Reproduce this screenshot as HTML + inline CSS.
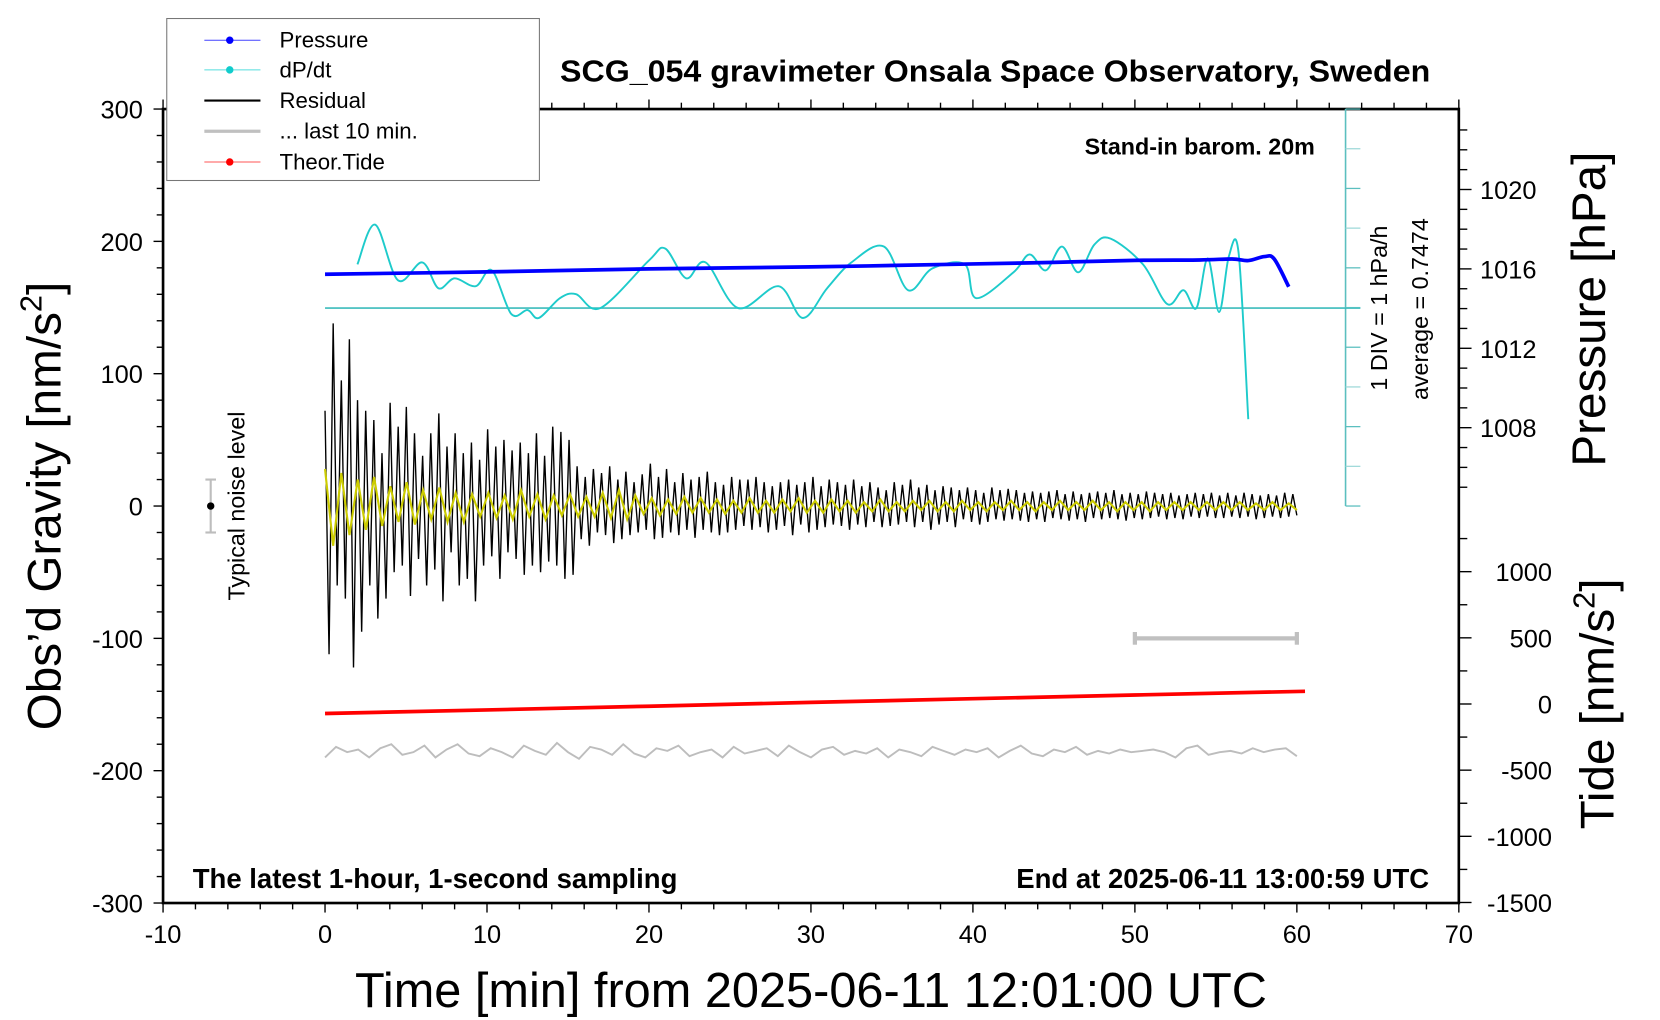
<!DOCTYPE html>
<html><head><meta charset="utf-8">
<style>
html,body{margin:0;padding:0;background:#fff;}
svg{display:block;font-family:"Liberation Sans",Arial,sans-serif;}
</style></head>
<body>
<svg id="chart" width="1660" height="1020" viewBox="0 0 1568 963.5">
<g id="axes"></g>
<g id="series"></g>
<g id="labels"></g>
</svg>
<script>
// ---- data ----
const residual = [72,-112,138,-60,95,-70,126,-122,
80,-95,72,-60,65,-85,40,-70, 78,-50,60,-45,75,-68,55,-40,
38,-60,55,-48,70,-72,45,-35, 55,-60,40,-55,48,-72,35,-45,
58,-38,45,-55,50,-35,42,-40, 48,-52,40,-45,55,-50,38,-42,
60,-45,56,-55,50,-52,30,-25, 22,-30,28,-20,25,-22,30,-28,
20,-25,26,-22,18,-20,24,-18, 32,-25,22,-24,28,-20,18,-22,
25,-18,20,-24,22,-18,26,-20, 18,-22,16,-20,22,-18,20,-15,
20,-18,22,-16,18,-20,15,-18, 18,-15,20,-22,16,-14,18,-20,
22,-18,15,-16,20,-14,18,-15, 16,-18,20,-14,15,-16,18,-12,
14,-16,12,-15,18,-14,16,-12, 20,-16,14,-12,16,-18,12,-14,
15,-12,14,-16,12,-10,14,-12, 12,-14,10,-12,14,-10,12,-11,
13,-10,12,-11,10,-12,11,-10, 10,-12,11,-9,12,-10,9,-11,
11,-10,9,-12,10,-9,11,-10, 10,-9,12,-10,9,-11,10,-9,
9,-10,11,-9,10,-8,9,-10, 10,-9,8,-10,9,-8,10,-9,
9,-8,10,-9,8,-9,10,-8, 8,-9,10,-8,9,-10,8,-9, 9,-8,8,-9,10,-8,9,-7];
const filtered = [28,-30,25,-22,20,-18,22,-15, 15,-12,18,-14,12,-10,14,-12, 10,-12,9,-8,10,-9,8,-10,
12,-8,9,-10,8,-7,9,-8, 7,-8,10,-9,12,-10,8,-6, 6,-7,5,-6,7,-5,6,-5, 5,-6,4,-5,6,-5,4,-5,
5,-4,6,-5,4,-5,5,-4, 4,-5,3,-4,5,-4,3,-4, 4,-3,4,-4,3,-4,4,-3, 3,-4,3,-3,4,-3,3,-4,
3,-3,4,-3,3,-3,4,-3, 3,-4,3,-3,3,-4,3,-3, 3,-3,3,-3,3,-3,3,-3, 3,-3,2,-3,3,-3,2,-3];
const last10 = [-190,-182,-186,-184,-190,-183,-180,-188,-186,-181,-190,-184,-180,-187,-189,-183,-186,-190,-181,-185,
-188,-179,-186,-191,-182,-184,-188,-180,-187,-190,-183,-185,-181,-189,-186,-184,-190,-182,-187,-185,
-183,-189,-181,-186,-190,-184,-182,-188,-185,-187,-183,-190,-184,-186,-189,-182,-185,-188,-184,-186,
-183,-190,-185,-181,-187,-189,-184,-186,-182,-188,-185,-187,-184,-186,-185,-184,-186,-190,-183,-181,
-188,-186,-185,-187,-183,-186,-184,-183,-189];
const tideT = [0,10,20,30,40,50,60.5];
const tideV = [-72,-45,-17,12,40,68,96];
const presT = [0,10,20,30,40,45,50,54,56,57,58,58.6,59.5];
const presV = [1015.73,1015.85,1016.0,1016.1,1016.25,1016.33,1016.43,1016.45,1016.5,1016.42,1016.62,1016.5,1015.1];
const dpT = [2,3.1,4.5,6,7,8,9.3,10.3,11.5,12.5,13.2,14.5,15.5,17,20,21,22.3,23.5,25.5,28,29.5,31,32.5,34.5,36,37.5,39.5,40.2,42.5,43.5,44.5,45.5,46.5,47.5,48.5,50.5,52,53,53.8,54.5,55.2,55.8,56.4,57];
const dpV = [1.1,2.1,0.7,1.15,0.5,0.75,0.55,0.95,-0.15,-0.05,-0.25,0.25,0.35,0,1.2,1.5,0.75,1.15,0,0.55,-0.25,0.5,1.15,1.55,0.45,1.0,1.1,0.25,0.9,1.35,0.95,1.55,0.9,1.6,1.75,1.1,0.1,0.45,0,1.25,-0.1,1.3,1.4,-2.8];
const xTicks = [-10,0,10,20,30,40,50,60,70];
const yTicks = [-300,-200,-100,0,100,200,300];
const pTicks = [1008,1012,1016,1020];
const tTicks = [-1500,-1000,-500,0,500,1000];

// ---- scales ----
const L=154,R=1378,T=103,B=853;
const X=t=>L+(t+10)*(R-L)/80;
const Y=v=>478-v*1.25;
const PY=p=>254-(p-1016)*18.75;
const TY=v=>665-v*0.125;
const DY=v=>291-v*37.5;
const NS='http://www.w3.org/2000/svg';
function mk(tag,attrs,parent,text){const e=document.createElementNS(NS,tag);for(const k in attrs)e.setAttribute(k,attrs[k]);if(text!==undefined)e.textContent=text;parent.appendChild(e);return e;}
const axes=document.getElementById('axes'),ser=document.getElementById('series'),lab=document.getElementById('labels');

let e=mk('rect',{x:L,y:T,width:R-L,height:B-T,fill:'none',stroke:'#000','stroke-width':2.5},axes);


for(let t=-10;t<=70;t+=2){const maj=t%10===0;
 mk('line',{x1:X(t),x2:X(t),y1:B,y2:B+(maj?9:6),stroke:'#000','stroke-width':1.3},axes);
 mk('line',{x1:X(t),x2:X(t),y1:T,y2:T-(maj?9:6),stroke:'#000','stroke-width':1.3},axes);}
xTicks.forEach(t=>{const el=mk('text',{x:X(t),y:891,'font-size':24,'text-anchor':'middle'},lab,String(t));
 
 });
for(let v=-300;v<=300;v+=20){const maj=v%100===0;
 mk('line',{x1:L,x2:L-(maj?9:6),y1:Y(v),y2:Y(v),stroke:'#000','stroke-width':1.3},axes);}
yTicks.forEach(v=>{const el=mk('text',{x:135,y:Y(v)+9,'font-size':24,'text-anchor':'end'},lab,String(v));
 
 });
for(let p=1005;p<=1023;p++){const y=PY(p);if(y<T||y>478)continue;
 mk('line',{x1:R,x2:R+(p%4===0?12:8),y1:y,y2:y,stroke:'#000','stroke-width':1.3},axes);}
pTicks.forEach(p=>{const el=mk('text',{x:1398,y:PY(p)+9,'font-size':24},lab,String(p));
 
 });
for(let v=-1500;v<=1250;v+=250){const y=TY(v);if(y<500)continue;
 mk('line',{x1:R,x2:R+(v%500===0?12:8),y1:y,y2:y,stroke:'#000','stroke-width':1.3},axes);}
tTicks.forEach(v=>{const el=mk('text',{x:1466,y:TY(v)+9,'font-size':24,'text-anchor':'end'},lab,String(v));
 
 });
mk('line',{x1:1271,x2:1271,y1:T,y2:478,stroke:'#5bbfbf','stroke-width':1.5},axes);
for(let k=0;k<=10;k++){mk('line',{x1:1271,x2:1285,y1:T+k*37.5,y2:T+k*37.5,stroke:k%2?'#9fd9d9':'#5bbfbf','stroke-width':1.2},axes);}
e=mk('line',{x1:X(0),x2:1285,y1:DY(0),y2:DY(0),stroke:'#3cbcbc','stroke-width':1.5},axes);



function poly(ts,vs,f){return ts.map((t,i)=>X(t).toFixed(1)+','+f(vs[i]).toFixed(1)).join(' ');}
function smooth(ts,vs,f){const p=ts.map((t,i)=>[X(t),f(vs[i])]);let d='M'+p[0][0]+','+p[0][1];
 for(let i=0;i<p.length-1;i++){const p0=p[i-1]||p[i],p1=p[i],p2=p[i+1],p3=p[i+2]||p2;
 d+=' C'+(p1[0]+(p2[0]-p0[0])/6)+','+(p1[1]+(p2[1]-p0[1])/6)+' '+(p2[0]-(p3[0]-p1[0])/6)+','+(p2[1]-(p3[1]-p1[1])/6)+' '+p2[0]+','+p2[1];}return d;}
const rT=residual.map((v,i)=>i*60/(residual.length-1));
e=mk('polyline',{points:poly(rT,residual,Y),fill:'none',stroke:'#000','stroke-width':1.3},ser);


const fT=filtered.map((v,i)=>i*60/(filtered.length-1));
e=mk('polyline',{points:poly(fT,filtered,Y),fill:'none',stroke:'#cccc00','stroke-width':2},ser);


const gT=last10.map((v,i)=>i*60/(last10.length-1));
e=mk('polyline',{points:poly(gT,last10,Y),fill:'none',stroke:'#bdbdbd','stroke-width':1.8},ser);


e=mk('polyline',{points:poly(tideT,tideV,TY),fill:'none',stroke:'#ff0000','stroke-width':3.5},ser);


e=mk('path',{d:smooth(dpT,dpV,DY),fill:'none',stroke:'#1ecbcb','stroke-width':1.8},ser);


e=mk('path',{d:smooth(presT,presV,PY),fill:'none',stroke:'#0000ff','stroke-width':3.5},ser);


const sb=mk('g',{stroke:'#c0c0c0','stroke-width':4},ser);


mk('line',{x1:X(50),x2:X(60),y1:Y(-100),y2:Y(-100)},sb);
mk('line',{x1:X(50),x2:X(50),y1:Y(-100)-6,y2:Y(-100)+6},sb);
mk('line',{x1:X(60),x2:X(60),y1:Y(-100)-6,y2:Y(-100)+6},sb);
mk('line',{x1:199,x2:199,y1:Y(20),y2:Y(-20),stroke:'#bdbdbd','stroke-width':2},ser);
mk('line',{x1:194,x2:204,y1:Y(20),y2:Y(20),stroke:'#bdbdbd','stroke-width':2},ser);
mk('line',{x1:194,x2:204,y1:Y(-20),y2:Y(-20),stroke:'#bdbdbd','stroke-width':2},ser);
mk('circle',{cx:199,cy:Y(0),r:3.5,fill:'#000'},ser);

lab.insertAdjacentHTML('beforeend',`
<text x="940" y="77" font-size="29" font-weight="bold" text-anchor="middle" textLength="822" lengthAdjust="spacingAndGlyphs">SCG_054 gravimeter Onsala Space Observatory, Sweden</text>
<text x="1242" y="146" font-size="22" font-weight="bold" text-anchor="end">Stand-in barom. 20m</text>
<text x="182" y="839" font-size="26" font-weight="bold">The latest 1-hour, 1-second sampling</text>
<text x="1350" y="839" font-size="26" font-weight="bold" text-anchor="end">End at 2025-06-11 13:00:59 UTC</text>
<text x="766" y="951" font-size="46" text-anchor="middle">Time [min] from 2025-06-11 12:01:00 UTC</text>
<text transform="translate(57,478) rotate(-90)" font-size="45" text-anchor="middle">Obs’d Gravity [nm/s<tspan font-size="29" dy="-18">2</tspan><tspan dy="18">]</tspan></text>
<text transform="translate(1516,292) rotate(-90)" font-size="45" text-anchor="middle">Pressure [hPa]</text>
<text transform="translate(1524,665) rotate(-90)" font-size="45" text-anchor="middle">Tide [nm/s<tspan font-size="29" dy="-18">2</tspan><tspan dy="18">]</tspan></text>
<text transform="translate(231,478) rotate(-90)" font-size="22" text-anchor="middle">Typical noise level</text>
<text transform="translate(1310,291) rotate(-90)" font-size="22" text-anchor="middle">1 DIV = 1 hPa/h</text>
<text transform="translate(1349,292) rotate(-90)" font-size="22" text-anchor="middle">average = 0.7474</text>
<g>
<rect x="157.5" y="17.5" width="352" height="153" fill="#fff" stroke="#777" stroke-width="1"/>
<line x1="193" x2="246" y1="38" y2="38" stroke="#4444ff" stroke-width="1"/><circle cx="217" cy="38" r="3.5" fill="#0000ff"/>
<text x="264" y="45" font-size="21">Pressure</text>
<line x1="193" x2="246" y1="66" y2="66" stroke="#55dddd" stroke-width="1"/><circle cx="217" cy="66" r="3.5" fill="#11cccc"/>
<text x="264" y="73" font-size="21">dP/dt</text>
<line x1="193" x2="246" y1="95" y2="95" stroke="#000" stroke-width="2"/>
<text x="264" y="102" font-size="21">Residual</text>
<line x1="193" x2="246" y1="124" y2="124" stroke="#c0c0c0" stroke-width="3"/>
<text x="264" y="131" font-size="21">... last 10 min.</text>
<line x1="193" x2="246" y1="153" y2="153" stroke="#ff5555" stroke-width="1"/><circle cx="217" cy="153" r="3.5" fill="#ff0000"/>
<text x="264" y="160" font-size="21">Theor.Tide</text>
</g>`);
</script>
</body></html>
